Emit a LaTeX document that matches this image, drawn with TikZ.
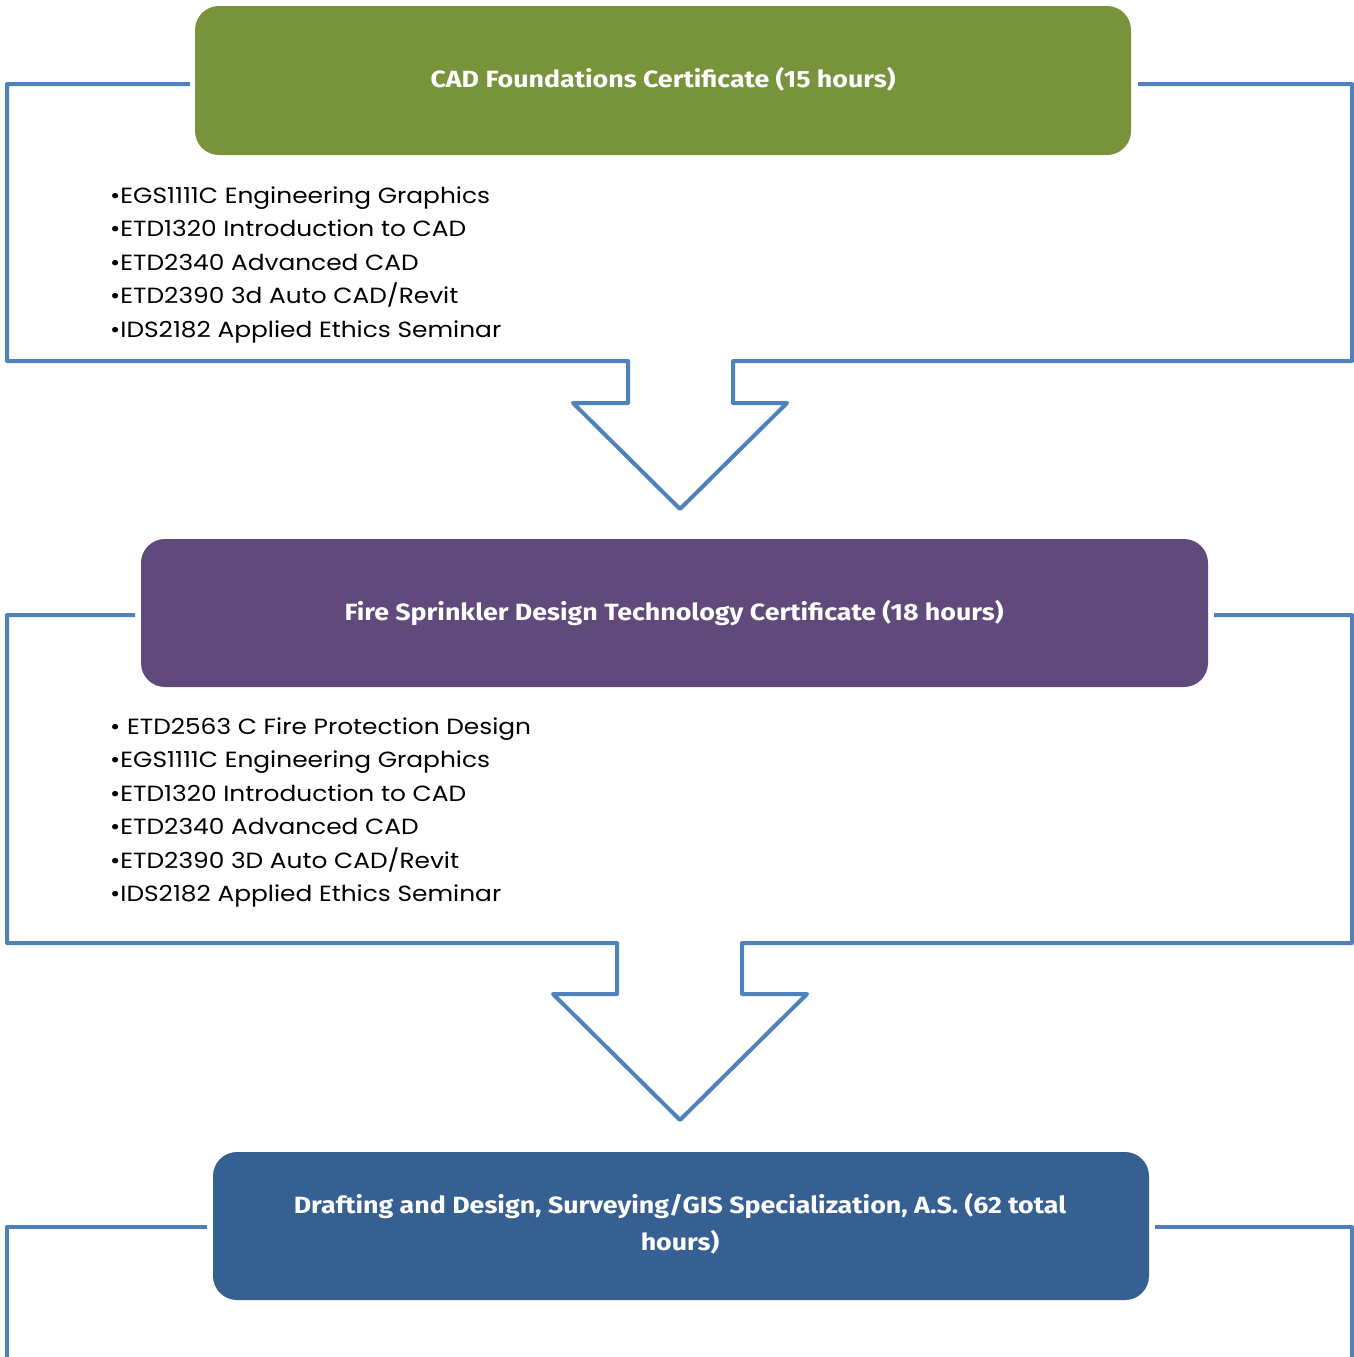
\documentclass[tikz,border=0pt]{standalone}
\usepackage{fontspec}
\setmainfont{Poppins}[FakeStretch=1.13]
\newfontfamily\titlefont{Fira Sans}[FakeStretch=1.14]
\definecolor{lineblue}{HTML}{4F81BD}
\definecolor{boxgreen}{HTML}{77933C}
\definecolor{boxpurple}{HTML}{604A7B}
\definecolor{boxblue}{HTML}{366092}
\tikzset{
  frameline/.style={draw=lineblue, line width=4pt, line join=round},
  headbox/.style={rounded corners=24pt, inner sep=0pt},
  headtext/.style={text=white, inner sep=0pt, align=center, font=\titlefont\bfseries\fontsize{23.5}{37}\selectfont},
  item/.style={anchor=base west, inner sep=0pt, font=\fontsize{22}{26}\selectfont}
}
\begin{document}
\begin{tikzpicture}[x=1pt,y=-1pt]
\useasboundingbox (0,0) rectangle (1354,1357);
% frame 1
\draw[frameline] (190,84) -- (7,84) -- (7,361) -- (628,361) -- (628,403) -- (573,403) -- (680,509) -- (787,403) -- (733,403) -- (733,361) -- (1352,361) -- (1352,84) -- (1138,84);
\node[headbox, fill=boxgreen, minimum width=936pt, minimum height=149pt] (b1) at (663,80.5) {};
\node[headtext, anchor=base] (t1) at (663,87) {CAD Foundations Certificate (15 hours)};
\node[item] (a1) at (110,203) {•EGS1111C Engineering Graphics};
\node[item] (a2) at (110,236.5) {•ETD1320 Introduction to CAD};
\node[item] (a3) at (110,270) {•ETD2340 Advanced CAD};
\node[item] (a4) at (110,303.5) {•ETD2390 3d Auto CAD/Revit};
\node[item] (a5) at (110,337) {•IDS2182 Applied Ethics Seminar};
% frame 2
\draw[frameline] (135,615) -- (7,615) -- (7,943) -- (617,943) -- (617,994) -- (553,994) -- (680,1120) -- (807,994) -- (742,994) -- (742,943) -- (1352,943) -- (1352,615) -- (1214,615);
\node[headbox, fill=boxpurple, minimum width=1067pt, minimum height=148pt] (b2) at (674.5,613) {};
\node[headtext, anchor=base] (t2) at (674,620) {Fire Sprinkler Design Technology Certificate (18 hours)};
\node[item] (c1) at (110,734) {• ETD2563 C Fire Protection Design};
\node[item] (c2) at (110,767) {•EGS1111C Engineering Graphics};
\node[item] (c3) at (110,801) {•ETD1320 Introduction to CAD};
\node[item] (c4) at (110,834) {•ETD2340 Advanced CAD};
\node[item] (c5) at (110,868) {•ETD2390 3D Auto CAD/Revit};
\node[item] (c6) at (110,901) {•IDS2182 Applied Ethics Seminar};
% frame 3
\draw[frameline] (207,1227) -- (7,1227) -- (7,1359);
\draw[frameline] (1155,1227) -- (1352,1227) -- (1352,1359);
\node[headbox, fill=boxblue, minimum width=936pt, minimum height=148pt] (b3) at (681,1226) {};
\node[headtext, anchor=base] (t3) at (680,1213) {Drafting and Design, Surveying/GIS Specialization, A.S. (62 total};
\node[headtext, anchor=base] (t3b) at (680,1250) {hours)};
\end{tikzpicture}
\end{document}
